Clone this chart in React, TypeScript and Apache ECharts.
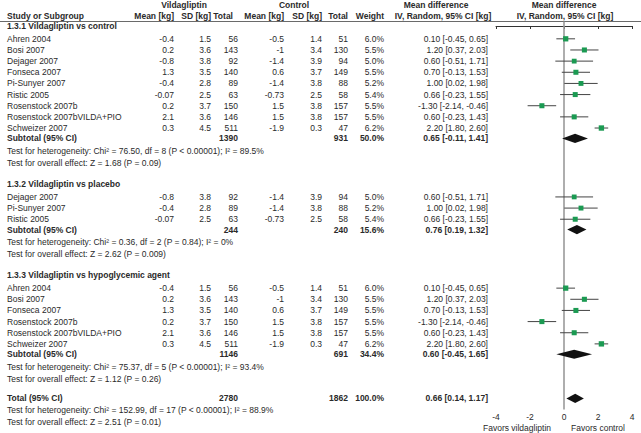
import React, { useEffect, useRef } from 'react';
import * as echarts from 'echarts';

// ---------- data ----------
const studyNames = ['Ahren 2004', 'Bosi 2007', 'Dejager 2007', 'Fonseca 2007', 'Pi-Sunyer 2007', 'Ristic 2005', 'Rosenstock 2007b', 'Rosenstock 2007bVILDA+PIO', 'Schweizer 2007'];
const vildaMean = [-0.4, 0.2, -0.8, 1.3, -0.4, -0.07, 0.2, 2.1, 0.3];
const vildaSD = [1.5, 3.6, 3.8, 3.5, 2.8, 2.5, 3.7, 3.6, 4.5];
const vildaTotal = [56, 143, 92, 140, 89, 63, 150, 146, 511];
const ctrlMean = [-0.5, -1, -1.4, 0.6, -1.4, -0.73, 1.5, 1.5, -1.9];
const ctrlSD = [1.4, 3.4, 3.9, 3.7, 3.8, 2.5, 3.8, 3.8, 0.3];
const ctrlTotal = [51, 130, 94, 149, 88, 58, 157, 157, 47];
const weights = [6.0, 5.5, 5.0, 5.5, 5.2, 5.4, 5.5, 5.5, 6.2];
const meanDiff = [0.10, 1.20, 0.60, 0.70, 1.00, 0.66, -1.30, 0.60, 2.20];
const ciLow = [-0.45, 0.37, -0.51, -0.13, 0.02, -0.23, -2.14, -0.23, 1.80];
const ciHigh = [0.65, 2.03, 1.71, 1.53, 1.98, 1.55, -0.46, 1.43, 2.60];

const groupTitles = ['1.3.1 Vildagliptin vs control', '1.3.2 Vildagliptin vs placebo', '1.3.3 Vildagliptin vs hypoglycemic agent'];
const groupStudies = [[0, 1, 2, 3, 4, 5, 6, 7, 8], [2, 4, 5], [0, 1, 3, 6, 7, 8]];
const subVildaTotal = [1390, 244, 1146];
const subCtrlTotal = [931, 240, 691];
const subWeight = [50.0, 15.6, 34.4];
const subMD = [0.65, 0.76, 0.60];
const subLow = [-0.11, 0.19, -0.45];
const subHigh = [1.41, 1.32, 1.65];
const subHet = [
  'Test for heterogeneity: Chi² = 76.50, df = 8 (P < 0.00001); I² = 89.5%',
  'Test for heterogeneity: Chi² = 0.36, df = 2 (P = 0.84); I² = 0%',
  'Test for heterogeneity: Chi² = 75.37, df = 5 (P < 0.00001); I² = 93.4%',
];
const subOverall = [
  'Test for overall effect: Z = 1.68 (P = 0.09)',
  'Test for overall effect: Z = 2.62 (P = 0.009)',
  'Test for overall effect: Z = 1.12 (P = 0.26)',
];
const totalVilda = 2780;
const totalCtrl = 1862;
const totalWeight = 100.0;
const totalMD = 0.66;
const totalLow = 0.14;
const totalHigh = 1.17;
const totalHet = 'Test for heterogeneity: Chi² = 152.99, df = 17 (P < 0.00001); I² = 88.9%';
const totalOverall = 'Test for overall effect: Z = 2.51 (P = 0.01)';

const axisTicks = [-4, -2, 0, 2, 4];
const favorsLeft = 'Favors vildagliptin';
const favorsRight = 'Favors control';

// ---------- layout ----------
const W = 641;
const H = 433;
const PITCH = 11.15;
const ROW0 = 26;
const GRID_BOTTOM = 23.5;
const yMin = -ROW0 / PITCH;
const yMax = yMin + (H - GRID_BOTTOM) / PITCH;
const toR = (px: number) => (px - ROW0) / PITCH;

const COL = { name: 7, vMean: 174, vSD: 211, vTotal: 238, cMean: 284, cSD: 322, cTotal: 348, weight: 384, ci: 488 };
const FONT = 'Liberation Sans, Arial, Helvetica, sans-serif';
const FS = 8.5;
const TEXT = '#2a2a2a';

type Cell = { r: number; x: number; text: string; align: string; bold?: boolean };

const fmtCI = (m: number, l: number, h: number) => `${m.toFixed(2)} [${l.toFixed(2)}, ${h.toFixed(2)}]`;

function buildLayout() {
  const cells: Cell[] = [];
  const studyMarks: number[][] = [];
  const diamonds: number[][] = [];
  const h1 = toR(4.5);
  const h2 = toR(15.5);
  cells.push({ r: h1, x: 184, text: 'Vildagliptin', align: 'center', bold: true });
  cells.push({ r: h1, x: 294, text: 'Control', align: 'center', bold: true });
  cells.push({ r: h1, x: 436, text: 'Mean difference', align: 'center', bold: true });
  cells.push({ r: h1, x: 564, text: 'Mean difference', align: 'center', bold: true });
  cells.push({ r: h2, x: COL.name, text: 'Study or Subgroup', align: 'left', bold: true });
  cells.push({ r: h2, x: COL.vMean, text: 'Mean [kg]', align: 'right', bold: true });
  cells.push({ r: h2, x: COL.vSD, text: 'SD [kg]', align: 'right', bold: true });
  cells.push({ r: h2, x: 233, text: 'Total', align: 'right', bold: true });
  cells.push({ r: h2, x: COL.cMean, text: 'Mean [kg]', align: 'right', bold: true });
  cells.push({ r: h2, x: COL.cSD, text: 'SD [kg]', align: 'right', bold: true });
  cells.push({ r: h2, x: COL.cTotal, text: 'Total', align: 'right', bold: true });
  cells.push({ r: h2, x: COL.weight, text: 'Weight', align: 'right', bold: true });
  cells.push({ r: h2, x: 443, text: 'IV, Random, 95% CI [kg]', align: 'center', bold: true });
  cells.push({ r: h2, x: 565, text: 'IV, Random, 95% CI [kg]', align: 'center', bold: true });

  let r = 0;
  groupStudies.forEach((g, gi) => {
    if (gi > 0) r += 1.9;
    cells.push({ r, x: COL.name, text: groupTitles[gi], align: 'left', bold: true });
    r += 1.15;
    g.forEach((si, k) => {
      if (k > 0) r += 1.0;
      cells.push({ r, x: COL.name, text: studyNames[si], align: 'left' });
      cells.push({ r, x: COL.vMean, text: String(vildaMean[si]), align: 'right' });
      cells.push({ r, x: COL.vSD, text: String(vildaSD[si]), align: 'right' });
      cells.push({ r, x: COL.vTotal, text: String(vildaTotal[si]), align: 'right' });
      cells.push({ r, x: COL.cMean, text: String(ctrlMean[si]), align: 'right' });
      cells.push({ r, x: COL.cSD, text: String(ctrlSD[si]), align: 'right' });
      cells.push({ r, x: COL.cTotal, text: String(ctrlTotal[si]), align: 'right' });
      cells.push({ r, x: COL.weight, text: weights[si].toFixed(1) + '%', align: 'right' });
      cells.push({ r, x: COL.ci, text: fmtCI(meanDiff[si], ciLow[si], ciHigh[si]), align: 'right' });
      studyMarks.push([meanDiff[si], r, ciLow[si], ciHigh[si], weights[si]]);
    });
    r += 0.93;
    cells.push({ r, x: COL.name, text: 'Subtotal (95% CI)', align: 'left', bold: true });
    cells.push({ r, x: COL.vTotal, text: String(subVildaTotal[gi]), align: 'right', bold: true });
    cells.push({ r, x: COL.cTotal, text: String(subCtrlTotal[gi]), align: 'right', bold: true });
    cells.push({ r, x: COL.weight, text: subWeight[gi].toFixed(1) + '%', align: 'right', bold: true });
    cells.push({ r, x: COL.ci, text: fmtCI(subMD[gi], subLow[gi], subHigh[gi]), align: 'right', bold: true });
    diamonds.push([subMD[gi], r, subLow[gi], subHigh[gi]]);
    r += 1.15;
    cells.push({ r, x: COL.name, text: subHet[gi], align: 'left' });
    r += 1.05;
    cells.push({ r, x: COL.name, text: subOverall[gi], align: 'left' });
  });
  r += 1.76;
  cells.push({ r, x: COL.name, text: 'Total (95% CI)', align: 'left', bold: true });
  cells.push({ r, x: COL.vTotal, text: String(totalVilda), align: 'right', bold: true });
  cells.push({ r, x: COL.cTotal, text: String(totalCtrl), align: 'right', bold: true });
  cells.push({ r, x: COL.weight, text: totalWeight.toFixed(1) + '%', align: 'right', bold: true });
  cells.push({ r, x: COL.ci, text: fmtCI(totalMD, totalLow, totalHigh), align: 'right', bold: true });
  diamonds.push([totalMD, r, totalLow, totalHigh]);
  r += 1.08;
  cells.push({ r, x: COL.name, text: totalHet, align: 'left' });
  r += 1.0;
  cells.push({ r, x: COL.name, text: totalOverall, align: 'left' });

  const favR = toR(427.7);
  cells.push({ r: favR, x: 517, text: favorsLeft, align: 'center' });
  cells.push({ r: favR, x: 598, text: favorsRight, align: 'center' });
  return { cells, studyMarks, diamonds };
}

export default function App() {
  const ref = useRef<HTMLDivElement>(null);
  useEffect(() => {
    document.body.style.margin = '0';
    if (!ref.current) return;
    const chart = echarts.init(ref.current, undefined, { renderer: 'svg' });
    const { cells, studyMarks, diamonds } = buildLayout();
    const headerLineR = toR(21.5);

    const option: any = {
      animation: false,
      grid: { left: 496, right: W - 632, top: 0, bottom: GRID_BOTTOM },
      xAxis: {
        type: 'value',
        min: axisTicks[0],
        max: axisTicks[axisTicks.length - 1],
        interval: axisTicks[1] - axisTicks[0],
        axisLine: { show: true, lineStyle: { color: '#333', width: 1 } },
        axisTick: { show: true, length: 3, lineStyle: { color: '#333' } },
        axisLabel: { fontSize: FS, color: TEXT, margin: 3, fontFamily: FONT },
        splitLine: { show: false },
      },
      yAxis: { type: 'value', inverse: true, min: yMin, max: yMax, show: false },
      series: [
        {
          type: 'custom',
          clip: false,
          data: [[0, headerLineR]],
          renderItem: (params: any, api: any) => {
            const top = api.coord([0, headerLineR]);
            const bot = api.coord([0, yMax]);
            return {
              type: 'group',
              children: [
                { type: 'line', shape: { x1: 0, y1: top[1], x2: W, y2: top[1] }, style: { stroke: '#6a6a6a', lineWidth: 1 } },
                { type: 'line', shape: { x1: top[0], y1: top[1], x2: bot[0], y2: bot[1] }, style: { stroke: '#9a9a9a', lineWidth: 1.6 } },
              ],
            };
          },
        },
        {
          type: 'custom',
          clip: false,
          data: cells.map((c) => [0, c.r]),
          renderItem: (params: any, api: any) => {
            const c = cells[params.dataIndex];
            const p = api.coord([0, c.r]);
            return {
              type: 'text',
              x: c.x,
              y: p[1],
              style: {
                text: c.text,
                fill: TEXT,
                fontSize: FS,
                fontFamily: FONT,
                fontWeight: c.bold ? 'bold' : 'normal',
                textAlign: c.align,
                textVerticalAlign: 'middle',
                align: c.align,
                verticalAlign: 'middle',
              },
            };
          },
        },
        {
          type: 'custom',
          clip: false,
          data: studyMarks,
          renderItem: (params: any, api: any) => {
            const md = api.value(0), r = api.value(1), lo = api.value(2), hi = api.value(3), w = api.value(4);
            const pL = api.coord([lo, r]);
            const pH = api.coord([hi, r]);
            const pM = api.coord([md, r]);
            const s = 2.15 * Math.sqrt(w);
            return {
              type: 'group',
              children: [
                { type: 'line', shape: { x1: pL[0], y1: pL[1], x2: pH[0], y2: pH[1] }, style: { stroke: '#444', lineWidth: 1 } },
                { type: 'rect', shape: { x: pM[0] - s / 2, y: pM[1] - s / 2, width: s, height: s }, style: { fill: '#1b9a52' } },
              ],
            };
          },
        },
        {
          type: 'custom',
          clip: false,
          data: diamonds,
          renderItem: (params: any, api: any) => {
            const md = api.value(0), r = api.value(1), lo = api.value(2), hi = api.value(3);
            const pL = api.coord([lo, r]);
            const pH = api.coord([hi, r]);
            const pM = api.coord([md, r]);
            const hh = 4.6;
            return {
              type: 'polygon',
              shape: { points: [[pL[0], pL[1]], [pM[0], pM[1] - hh], [pH[0], pH[1]], [pM[0], pM[1] + hh]] },
              style: { fill: '#111' },
            };
          },
        },
      ],
    };
    chart.setOption(option);
    return () => chart.dispose();
  }, []);
  return <div ref={ref} style={{ width: W, height: H }} />;
}
